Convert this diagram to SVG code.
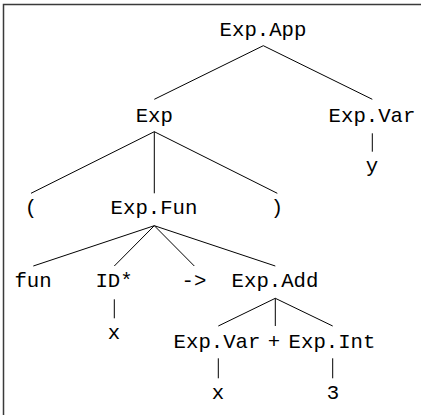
<svg xmlns="http://www.w3.org/2000/svg" width="421" height="415" viewBox="0 0 421 415">
<style>
text{font-family:"Liberation Mono","DejaVu Sans Mono",monospace;font-size:20.7px;fill:#000;text-anchor:middle}
.e{stroke:#000;stroke-width:1;fill:none}
.f{stroke:#3a3a3a;stroke-width:1.5;fill:none}
</style>
<rect width="421" height="415" fill="#fff"/>
<path class="f" d="M3.5,415 V4.5 H421"/>
<g id="connectors">
<line class="e" x1="263.3" y1="45.7" x2="154.3" y2="99.3"/>
<line class="e" x1="263.3" y1="45.7" x2="372.3" y2="99.3"/>
<line class="e" x1="372.3" y1="133.3" x2="372.3" y2="151.7"/>
<line class="e" x1="154.3" y1="131.7" x2="31" y2="193.3"/>
<line class="e" x1="154.3" y1="131.7" x2="154.3" y2="193.3"/>
<line class="e" x1="154.3" y1="131.7" x2="277.3" y2="193.3"/>
<line class="e" x1="154.3" y1="225.7" x2="33.3" y2="266"/>
<line class="e" x1="154.3" y1="225.7" x2="114.3" y2="266"/>
<line class="e" x1="154.3" y1="225.7" x2="194.3" y2="266"/>
<line class="e" x1="154.3" y1="225.7" x2="275.3" y2="266"/>
<line class="e" x1="114.3" y1="299.3" x2="114.3" y2="318.3"/>
<line class="e" x1="275.3" y1="298.3" x2="218.3" y2="326"/>
<line class="e" x1="275.3" y1="298.3" x2="275.3" y2="326"/>
<line class="e" x1="275.3" y1="298.3" x2="332.7" y2="326"/>
<line class="e" x1="218.3" y1="358.3" x2="218.3" y2="378.3"/>
<line class="e" x1="332.7" y1="358.3" x2="332.7" y2="378.3"/>
</g>
<g id="n-app"><text x="263" y="36">Exp.App</text></g>
<g id="n-exp"><text x="154.3" y="122">Exp</text></g>
<g id="n-var1"><text x="372" y="122">Exp.Var</text></g>
<g id="n-y"><text x="372" y="172">y</text></g>
<g id="n-lp"><text x="31" y="214">(</text></g>
<g id="n-fun"><text x="154" y="214">Exp.Fun</text></g>
<g id="n-rp"><text x="277" y="214">)</text></g>
<g id="n-kfun"><text x="33" y="287">fun</text></g>
<g id="n-id"><text x="114" y="287">ID*</text></g>
<g id="n-arrow"><text x="194" y="287">-&gt;</text></g>
<g id="n-add"><text x="275" y="287">Exp.Add</text></g>
<g id="n-x1"><text x="114" y="338.5">x</text></g>
<g id="n-var2"><text x="217" y="347.5">Exp.Var</text></g>
<g id="n-plus"><text x="274" y="347.5">+</text></g>
<g id="n-int"><text x="332" y="347.5">Exp.Int</text></g>
<g id="n-x2"><text x="218" y="399">x</text></g>
<g id="n-3"><text x="333" y="399">3</text></g>
</svg>
